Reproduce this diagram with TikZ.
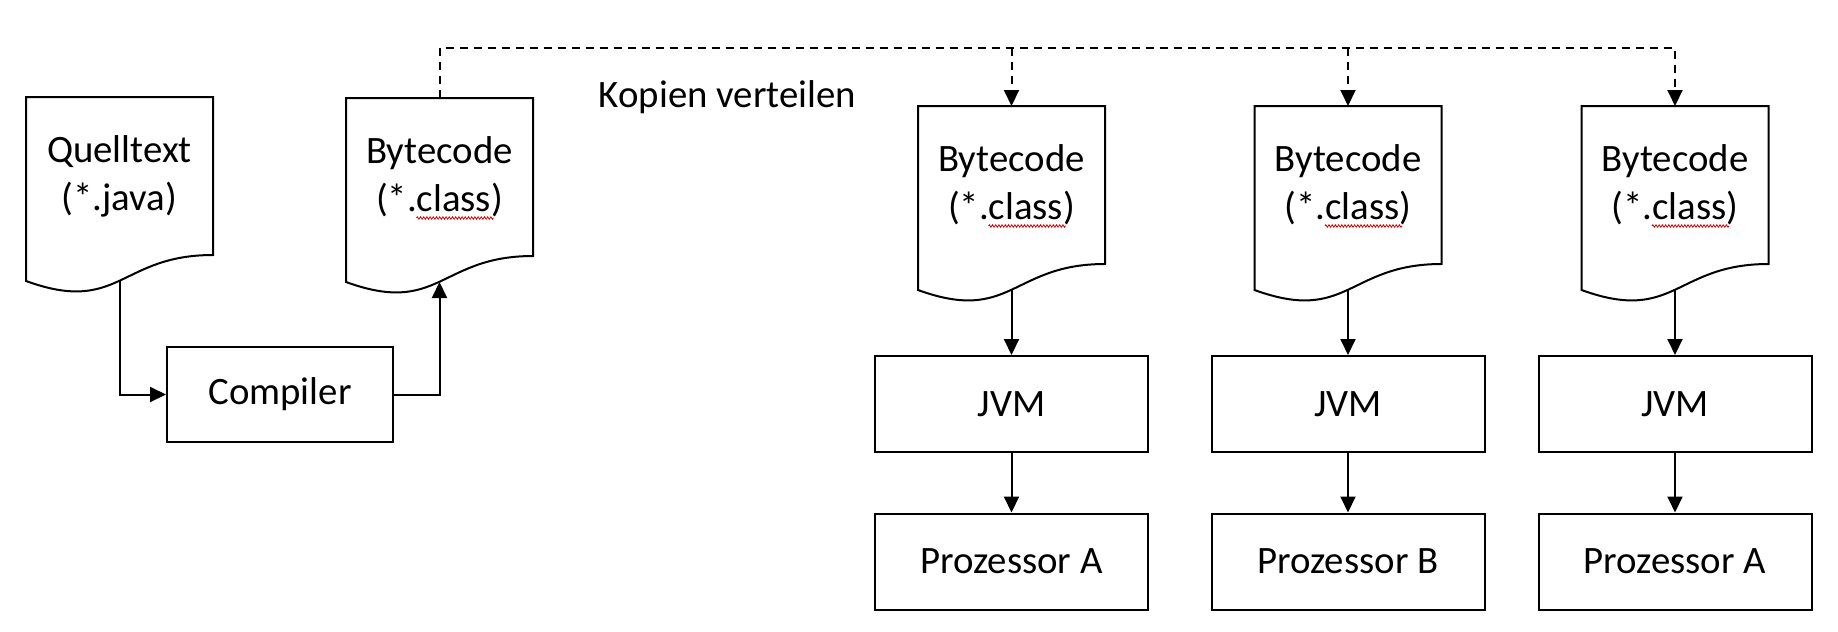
\documentclass[tikz,border=0pt]{standalone}
\usepackage{fontspec}
\setmainfont{Carlito}
\usetikzlibrary{arrows.meta,calc,decorations.pathmorphing}
\newcommand{\docoutline}[1]{%
  \draw[docline] ([yshift=-13pt]#1.south west) -- (#1.north west) -- (#1.north east) -- (#1.south east)
    .. controls (#1.south) and ([yshift=-30pt]#1.south) .. ([yshift=-13pt]#1.south west) -- cycle;}
\newcommand{\spellmark}[1]{%
  \draw[squig] ([xshift=-11.5pt,yshift=-20.5pt]#1.center) -- ([xshift=27pt,yshift=-20.5pt]#1.center);}
\begin{document}
\begin{tikzpicture}[x=0.5pt,y=-0.5pt,
  txt/.style={font=\fontsize{19.4pt}{24pt}\selectfont},
  box/.style={txt, draw, line width=1pt, inner sep=0pt, align=center},
  compbox/.style={box, minimum width=113pt, minimum height=47.5pt},
  vmbox/.style={box, minimum width=136.5pt, minimum height=48pt},
  doc/.style={txt, inner sep=0pt, outer sep=0pt, minimum width=93.5pt, minimum height=79pt, align=center},
  docline/.style={line width=1pt, line join=miter},
  arr/.style={line width=1pt, -{Triangle[length=8pt,width=7.5pt]}},
  dsh/.style={dash pattern=on 4pt off 3pt},
  squig/.style={draw=red!85!black, line width=0.4pt, decorate, decoration={zigzag, segment length=1.6pt, amplitude=0.6pt}}
]
\useasboundingbox (0,0) rectangle (1838,632);

% left part
\node[doc] (q) at (119.5,176) {Quelltext\\(*.java)};
\node[doc] (b0) at (439.5,177) {Bytecode\\(*.class)};
\node[compbox] (c) at (280,394.5) {Compiler};
\docoutline{q}
\docoutline{b0}
\spellmark{b0}
\coordinate (qw) at ([yshift=-13pt]q.south);
\coordinate (b0w) at ([yshift=-13pt]b0.south);
\draw[arr] (qw) |- (c.west);
\draw[arr] (c.east) -| (b0w);

% right part: copies
\foreach \i/\x/\p in {1/1011.5/A,2/1348/B,3/1675/A}{
  \node[doc] (b\i) at (\x,185) {Bytecode\\(*.class)};
  \docoutline{b\i}
  \spellmark{b\i}
  \coordinate (b\i w) at ([yshift=-13pt]b\i.south);
  \node[vmbox] (j\i) at (\x,404) {JVM};
  \node[vmbox] (p\i) at (\x,561.5) {Prozessor \p};
  \draw[arr] (b\i w) -- (j\i.north);
  \draw[arr] (j\i.south) -- (p\i.north);
}

% distribution
\coordinate (bus) at (1675,48);
\draw[arr,dsh] (b0.north) |- (bus) -- (b3.north);
\draw[arr,dsh] (b1.north |- bus) -- (b1.north);
\draw[arr,dsh] (b2.north |- bus) -- (b2.north);
\node[txt, anchor=base] (kv) at (727.5,107) {Kopien verteilen};
\end{tikzpicture}
\end{document}
